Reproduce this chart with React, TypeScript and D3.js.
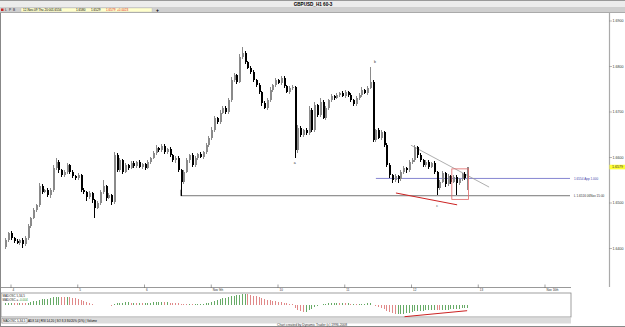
import React from 'react';
import * as d3 from 'd3';

// ---- data (GBPUSD H1) ----
const firstOpen = 1.6403;
const closes = [
  1.6418, 1.6434, 1.6423, 1.6416, 1.6412, 1.6418, 1.6409, 1.6423, 1.6449, 1.6467,
  1.6484, 1.6495, 1.6537, 1.6524, 1.6528, 1.6517, 1.6528, 1.6577, 1.6590, 1.6572,
  1.6561, 1.6568, 1.6583, 1.6568, 1.6559, 1.6555, 1.6561, 1.6528, 1.6524, 1.6513,
  1.6522, 1.6506, 1.6489, 1.6500, 1.6524, 1.6537, 1.6511, 1.6517, 1.6502, 1.6605,
  1.6572, 1.6594, 1.6568, 1.6583, 1.6577, 1.6588, 1.6581, 1.6590, 1.6579, 1.6585,
  1.6577, 1.6590, 1.6599, 1.6610, 1.6621, 1.6616, 1.6625, 1.6612, 1.6618, 1.6605,
  1.6594, 1.6599, 1.6572, 1.6546, 1.6568, 1.6594, 1.6605, 1.6583, 1.6599, 1.6607,
  1.6601, 1.6612, 1.6627, 1.6643, 1.6660, 1.6687, 1.6678, 1.6698, 1.6709, 1.6700,
  1.6726, 1.6770, 1.6781, 1.6766, 1.6821, 1.6830, 1.6810, 1.6797, 1.6788, 1.6770,
  1.6759, 1.6744, 1.6720, 1.6709, 1.6726, 1.6748, 1.6759, 1.6770, 1.6764, 1.6775,
  1.6757, 1.6744, 1.6753, 1.6755, 1.6616, 1.6665, 1.6649, 1.6660, 1.6654, 1.6704,
  1.6660, 1.6715, 1.6693, 1.6722, 1.6687, 1.6709, 1.6726, 1.6735, 1.6731, 1.6737,
  1.6742, 1.6735, 1.6744, 1.6737, 1.6726, 1.6717, 1.6731, 1.6737, 1.6748, 1.6742,
  1.6753, 1.6766, 1.6638, 1.6660, 1.6643, 1.6656, 1.6627, 1.6583, 1.6561, 1.6550,
  1.6559, 1.6552, 1.6568, 1.6577, 1.6572, 1.6590, 1.6594, 1.6623, 1.6605, 1.6594,
  1.6583, 1.6590, 1.6579, 1.6588, 1.6568, 1.6533, 1.6546, 1.6566, 1.6541, 1.6559,
  1.6546, 1.6557, 1.6544, 1.6552, 1.6563, 1.6556, 1.6579,
];
// wick lengths above / below the body, in pips
const upperWicks = [
  4, 3, 5, 3, 4, 3, 4, 5, 4, 3,
  4, 3, 8, 4, 3, 5, 4, 6, 9, 4,
  3, 5, 4, 3, 4, 3, 5, 3, 4, 3,
  4, 3, 3, 4, 5, 13, 3, 4, 3, 6,
  4, 5, 3, 4, 3, 5, 4, 3, 4, 3,
  4, 5, 3, 4, 6, 3, 5, 4, 3, 4,
  3, 4, 5, 3, 4, 5, 3, 4, 5, 3,
  4, 3, 5, 4, 6, 5, 3, 6, 4, 5,
  4, 6, 5, 3, 6, 13, 4, 3, 5, 4,
  3, 4, 3, 5, 4, 6, 3, 4, 3, 5,
  4, 3, 5, 4, 3, 6, 4, 3, 5, 10,
  4, 6, 3, 8, 4, 5, 3, 4, 3, 4,
  3, 4, 5, 3, 4, 3, 5, 4, 6, 3,
  5, 33, 4, 3, 5, 4, 3, 5, 4, 3,
  4, 3, 5, 4, 3, 5, 4, 5, 3, 4,
  3, 5, 4, 3, 4, 3, 5, 4, 3, 4,
  3, 4, 5, 3, 4, 5, 1,
];
const lowerWicks = [
  5, 3, 4, 4, 3, 5, 8, 3, 4, 5,
  3, 4, 4, 5, 3, 4, 5, 3, 4, 5,
  3, 4, 5, 4, 3, 5, 4, 3, 4, 8,
  4, 5, 22, 3, 4, 5, 6, 3, 7, 4,
  3, 4, 5, 3, 4, 3, 5, 4, 3, 4,
  5, 3, 4, 3, 4, 5, 3, 4, 4, 3,
  4, 5, 3, 30, 4, 3, 5, 4, 3, 4,
  3, 4, 5, 3, 4, 3, 5, 4, 3, 4,
  5, 3, 4, 4, 3, 4, 5, 3, 4, 3,
  4, 5, 6, 3, 4, 5, 3, 4, 3, 5,
  4, 3, 4, 5, 18, 6, 4, 3, 5, 4,
  5, 3, 4, 4, 3, 5, 4, 3, 4, 3,
  4, 3, 4, 5, 3, 4, 3, 5, 4, 3,
  4, 3, 5, 4, 3, 5, 4, 3, 5, 6,
  4, 9, 3, 4, 5, 3, 4, 3, 5, 4,
  3, 4, 5, 3, 4, 15, 4, 3, 6, 4,
  5, 3, 26, 4, 3, 5, 27,
];
// MADOSC 5,34,5 histogram, in pips
const oscPips = [
  15, 18, 20, 18, 16, 17, 15, 14, 18, 24,
  30, 36, 44, 48, 50, 52, 54, 62,
  66, 66, 64, 62, 64, 62, 58, 54, 50, 44,
  36, 28, 20, 12, 4, 0,
  2, 4, -2, -3, -4,
  12, 14, 18, 20, 22, 22, 20, 20, 18, 18, 16, 16, 18, 20, 22, 24, 24, 24, 22, 22, 20, 18, 16, 14, 10, 8,
  6, 6, 5, 6, 7, 8, 10, 14,
  20, 28, 36, 44, 50, 54, 60, 66, 72, 76, 80, 84, 88, 88, 86, 82,
  76, 70, 64, 56, 50, 44, 40, 36, 32, 28, 24, 20, 16, 12, 8,
  -20, -36, -48, -56, -52, -40,
  -28, -16, -8, 0, 6, 10, 14, 16, 18, 18, 16, 16, 14, 14, 12, 12, 10, 10, 12, 12, 14, 16, 2, -6, -12,
  -20, -30, -44, -56, -66, -72, -72, -70, -68, -66, -62,
  -56, -50, -48, -46, -44, -42, -40, -40, -38, -40, -42, -40, -38, -36, -34, -32, -30, -28, -26, -25, -24,
];
const xTickIndex = [2, 26, 50, 74, 98, 122, 146, 170, 194];
const xTickLabels = ['4', '5', '6', 'Nov 9th', '10', '11', '12', '13', 'Nov 16th'];
const yTicks = [1.64, 1.65, 1.66, 1.67, 1.68, 1.69];
const lastPrice = 1.6579;
const appLevel = 1.6554;
const lowLevel = 1.6516;
const header = ['12-Nov-09 Thu 20:00', '1.6556', '1.6580', '1.6529'];
const headerRed = ['1.6579', '+0.0023'];

const FONT = 'Liberation Sans, Arial, sans-serif';

export default function App() {
  const x = d3.scaleLinear().domain([2, 194]).range([11, 545]);
  const y = d3.scaleLinear().domain([1.64, 1.69]).range([248.5, 21]);
  const oy = d3.scaleLinear().domain([-96, 96]).range([317, 293]);
  const plotRight = 570;

  const candles = closes.map((c, i) => {
    const o = i === 0 ? firstOpen : closes[i - 1];
    const hi = Math.max(o, c) + upperWicks[i] / 10000;
    const lo = Math.min(o, c) - lowerWicks[i] / 10000;
    return { i, o, c, hi, lo };
  });

  const redRect = { i0: 160.5, i1: 166.5, p0: 1.6575, p1: 1.6508 };

  return (
    <svg
      width={625}
      height={327}
      style={{ position: 'fixed', left: 0, top: 0, background: '#fff' }}
      fontFamily={FONT}
    >
      {/* window title bar */}
      <rect x={0} y={0} width={625} height={7} fill="#ececec" />
      <line x1={0} y1={0.5} x2={625} y2={0.5} stroke="#999" />
      <text x={313} y={5.6} fontSize={4.6} fontWeight="bold" textAnchor="middle" fill="#000">
        GBPUSD_H1 60-3
      </text>
      {/* toolbar */}
      <rect x={0} y={7} width={625} height={6} fill="#cfcfcf" />
      <line x1={0} y1={12.5} x2={625} y2={12.5} stroke="#aaa" />
      <rect x={1} y={8.5} width={2.5} height={2.5} fill="#c22" />
      <text x={5} y={11} fontSize={3.2} fill="#223">L</text>
      <text x={9} y={11} fontSize={3.2} fill="#223">P</text>
      <text x={13} y={11} fontSize={3.2} fill="#223">B</text>
      <rect x={21} y={8} width={131} height={4} fill="#ffffcc" stroke="#bbb" strokeWidth={0.4} />
      <text x={23} y={11} fontSize={3.1} fill="#000">{header[0]}</text>
      <text x={52} y={11} fontSize={3.1} fill="#000">{header[1]}</text>
      <text x={76} y={11} fontSize={3.1} fill="#000">{header[2]}</text>
      <text x={91} y={11} fontSize={3.1} fill="#000">{header[3]}</text>
      <text x={106} y={11} fontSize={3.1} fill="#d22">{headerRed[0]}</text>
      <text x={117} y={11} fontSize={3.1} fill="#d22">{headerRed[1]}</text>
      <text x={156} y={11.6} fontSize={5} fontWeight="bold" fill="#000">+</text>

      {/* outer frame */}
      <line x1={0.5} y1={13} x2={0.5} y2={327} stroke="#888" />
      <line x1={0} y1={326.5} x2={625} y2={326.5} stroke="#888" />

      {/* right price axis */}
      <line x1={609.5} y1={13} x2={609.5} y2={287} stroke="#aaa" strokeWidth={1.2} />
      {yTicks.map((t) => (
        <g key={t}>
          <line x1={609} y1={y(t)} x2={612} y2={y(t)} stroke="#888" strokeWidth={0.6} />
          <text x={612.5} y={y(t) + 1.3} fontSize={3.6} fill="#333">
            {t.toFixed(4)}
          </text>
        </g>
      ))}
      <rect x={609.5} y={y(lastPrice) - 2.3} width={15.5} height={4.6} fill="#ffff33" />
      <text x={612} y={y(lastPrice) + 1.3} fontSize={3.6} fill="#333">
        {lastPrice.toFixed(4)}
      </text>

      {/* horizontal levels */}
      <line x1={x(63)} y1={y(lowLevel)} x2={plotRight} y2={y(lowLevel)} stroke="#666" strokeWidth={0.9} />
      <line x1={x(63)} y1={y(lowLevel)} x2={x(63)} y2={y(lowLevel) - 6} stroke="#666" strokeWidth={0.8} />
      <text x={574} y={y(lowLevel) + 1.2} fontSize={3.1} fill="#333">
        L 1.6516 06Nov 15:00
      </text>
      <line x1={x(133.2)} y1={y(appLevel)} x2={plotRight} y2={y(appLevel)} stroke="#7777cc" strokeWidth={0.9} />
      <text x={574} y={y(appLevel) + 1.2} fontSize={3.1} fill="#4444aa">
        1.6554 App 1.000
      </text>

      {/* trend line */}
      <line x1={x(145.8)} y1={y(1.6627)} x2={x(173.9)} y2={y(1.6535)} stroke="#999" strokeWidth={0.8} />

      {/* candles */}
      <g shapeRendering="crispEdges">
        {candles.map((d) => {
          const up = d.c >= d.o;
          const col = up ? '#8a8a8a' : '#000';
          const cx = Math.round(x(d.i));
          const top = y(Math.max(d.o, d.c));
          const bot = y(Math.min(d.o, d.c));
          return (
            <g key={d.i}>
              <line x1={cx + 0.5} x2={cx + 0.5} y1={y(d.hi)} y2={y(d.lo)} stroke={col} strokeWidth={1} />
              <rect x={cx - 0.5} y={top} width={2} height={Math.max(1, bot - top)} fill={col} />
            </g>
          );
        })}
      </g>

      {/* annotations */}
      <line x1={x(140.4)} y1={y(1.6522)} x2={x(162.4)} y2={y(1.6496)} stroke="#cc2222" strokeWidth={1} />
      <rect
        x={x(redRect.i0)}
        y={y(redRect.p0)}
        width={x(redRect.i1) - x(redRect.i0)}
        height={y(redRect.p1) - y(redRect.p0)}
        fill="none"
        stroke="#e06666"
        strokeWidth={0.8}
      />
      <text x={x(104)} y={y(1.6588) + 1.5} fontSize={3.5} textAnchor="middle" fill="#333">a</text>
      <text x={x(132.9)} y={y(1.681) + 1.5} fontSize={3.5} textAnchor="middle" fill="#333">b</text>
      <text x={x(155.2)} y={y(1.6495) + 1.5} fontSize={3.5} textAnchor="middle" fill="#333">c</text>

      {/* time axis */}
      <line x1={1} y1={287.5} x2={571} y2={287.5} stroke="#999" />
      {xTickIndex.map((t, k) => (
        <g key={t}>
          <line x1={x(t)} y1={284.5} x2={x(t)} y2={288} stroke="#666" strokeWidth={0.6} />
          <text x={x(t) + 1.5} y={291} fontSize={3} fill="#333">
            {xTickLabels[k]}
          </text>
        </g>
      ))}

      {/* oscillator panel */}
      <rect x={1} y={293} width={570} height={24} fill="#fff" stroke="#888" strokeWidth={0.8} />
      <g shapeRendering="crispEdges">
        {oscPips.map((v, i) => {
          const rising = i === 0 || v >= oscPips[i - 1];
          return (
            <line
              key={i}
              x1={Math.round(x(i)) + 0.5}
              x2={Math.round(x(i)) + 0.5}
              y1={oy(0)}
              y2={oy(v)}
              stroke={rising ? '#66aa66' : '#e08888'}
              strokeWidth={1}
            />
          );
        })}
      </g>
      <line x1={x(143.5)} y1={316.7} x2={x(166)} y2={310.7} stroke="#cc2222" strokeWidth={1} />
      <text x={2.5} y={296.5} fontSize={3} fill="#222">MADOSC 5,34,5</text>
      <text x={2.5} y={300.5} fontSize={3} fill="#222">
        MADOSC = <tspan fill="#2a9a2a">-0.004</tspan>
      </text>

      {/* indicator tabs */}
      <rect x={1} y={318} width={570} height={5.5} fill="#dcdcdc" />
      <rect x={2} y={318.5} width={25} height={4.5} fill="#fff" stroke="#666" strokeWidth={0.4} />
      <text x={3} y={322} fontSize={3} fill="#000">MADOSC 5,34,5</text>
      <text x={28} y={322} fontSize={3} fill="#000">ADX 14 | RSI 14,20 | SO 8,3 80/20% (D%) | Volume</text>

      {/* credits */}
      <text x={312} y={325.5} fontSize={3.3} textAnchor="middle" fill="#333">
        Chart created by Dynamic Trader  (c) 1996-2008
      </text>
    </svg>
  );
}
